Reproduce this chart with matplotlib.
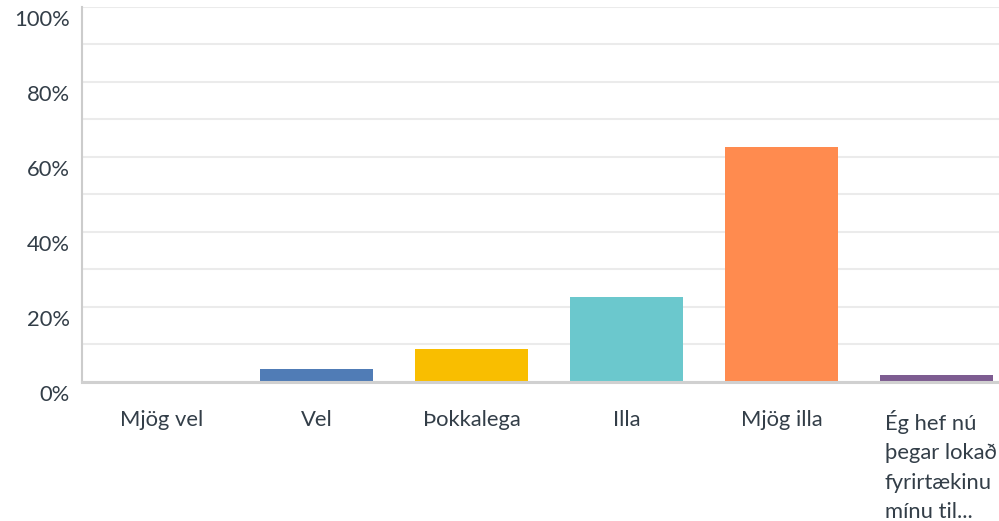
import matplotlib
matplotlib.use('Agg')
import matplotlib.pyplot as plt
import matplotlib.transforms as mtransforms

# survey answers (share of respondents, %)
categories = ['Mjög vel', 'Vel', 'Þokkalega', 'Illa', 'Mjög illa',
              'Ég hef nú\nþegar lokað\nfyrirtækinu\nmínu til...']
values = [0.0, 3.4, 8.7, 22.6, 62.6, 1.8]
colors = ['#507cb6', '#507cb6', '#f9be00', '#6bc8cd', '#ff8b4f', '#7d5c91']
yticks = [0, 20, 40, 60, 80, 100]
ytick_labels = ['0%', '20%', '40%', '60%', '80%', '100%']

plt.rcParams['font.family'] = ['Lato', 'DejaVu Sans']
text_color = '#333e48'
fsize = 15.8

fig = plt.figure(figsize=(9.99, 5.21), dpi=100)
# axes runs past the right edge, the last category gets cut like in the original
ax = fig.add_axes([82 / 999, (521 - 381.8) / 521, 930 / 999, 375 / 521])

x = list(range(len(categories)))
ax.bar(x, values, width=0.73, color=colors, zorder=3)

ax.set_xlim(-0.515, 5.485)
ax.set_ylim(0, 100)

ax.set_yticks(yticks)
ax.set_yticks(range(10, 100, 20), minor=True)
ax.set_yticklabels(ytick_labels, fontsize=fsize, color=text_color)
ax.grid(axis='y', which='both', color='#ebebeb', linewidth=1.5, zorder=0)
ax.tick_params(axis='y', which='both', length=0, pad=9)

# labels sit a bit below their grid line
offset = mtransforms.ScaledTranslation(0, -11 / 100, fig.dpi_scale_trans)
for lab in ax.get_yticklabels():
    lab.set_transform(lab.get_transform() + offset)

ax.set_xticks(x)
ax.set_xticklabels(categories, fontsize=fsize, color=text_color,
                   linespacing=1.6, va='top')
ax.tick_params(axis='x', length=0, pad=20)
for lab in ax.get_xticklabels():
    lab.set_multialignment('left')
# last (wrapped) label starts a little further right
last = ax.get_xticklabels()[-1]
last.set_transform(last.get_transform() +
                   mtransforms.ScaledTranslation(4 / 100, 0, fig.dpi_scale_trans))

for s in ['top', 'right']:
    ax.spines[s].set_visible(False)
ax.spines['left'].set_color('#cccccc')
ax.spines['left'].set_linewidth(1.5)
ax.spines['bottom'].set_color('#d0d0d0')
ax.spines['bottom'].set_linewidth(2.2)
ax.spines['bottom'].set_zorder(4)

fig.savefig('out.png', dpi=100)
